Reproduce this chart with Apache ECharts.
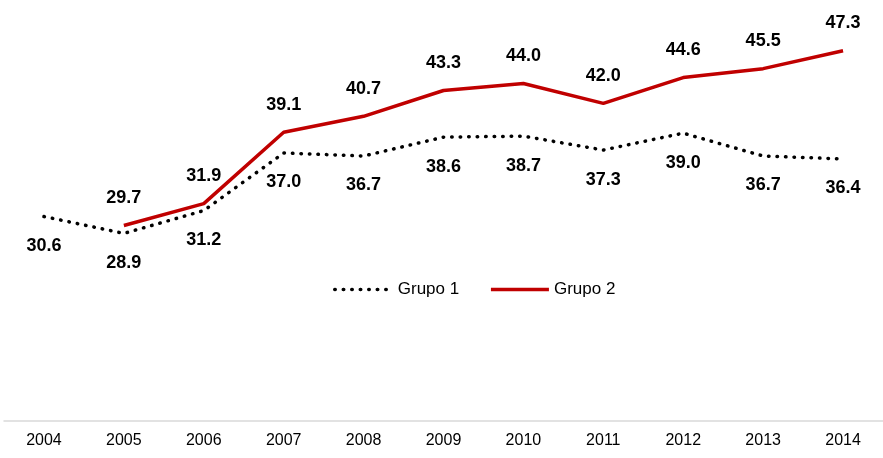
<!DOCTYPE html>
<html>
<head>
<meta charset="utf-8">
<script src="https://cdn.jsdelivr.net/npm/echarts@6/dist/echarts.min.js"></script>
<style>
  html, body { margin: 0; padding: 0; background: #fff; }
  #chart { width: 883px; height: 458px; }
</style>
</head>
<body>
<div id="chart"></div>
<script>
var years = ['2004', '2005', '2006', '2007', '2008', '2009', '2010', '2011', '2012', '2013', '2014']
var grupo1 = [30.6, 28.9, 31.2, 37.0, 36.7, 38.6, 38.7, 37.3, 39.0, 36.7, 36.4]
var grupo2 = [null, 29.7, 31.9, 39.1, 40.7, 43.3, 44.0, 42.0, 44.6, 45.5, 47.3]

var font = '"Liberation Sans Narrow", "Liberation Sans", Arial, sans-serif'
var chart = echarts.init(document.getElementById('chart'))

function labelOf(pos, dist) {
  return {
    show: true,
    position: pos,
    distance: dist,
    fontFamily: font,
    fontSize: 18,
    fontWeight: 'bold',
    color: '#000',
    formatter: function (p) { return p.value.toFixed(1) }
  }
}

var option = {
  animation: false,
  grid: { left: 4, right: -2, top: 24, bottom: 37 },
  legend: {
    left: 328,
    top: 276,
    itemWidth: 58,
    itemHeight: 14,
    itemGap: 30,
    lineStyle: { width: 3.5 },
    textStyle: { fontFamily: font, fontSize: 17, color: '#000' },
    data: ['Grupo 1', 'Grupo 2']
  },
  xAxis: {
    type: 'category',
    data: years,
    boundaryGap: true,
    axisLine: { lineStyle: { color: '#d9d9d9', width: 1.5 } },
    axisTick: { show: false },
    axisLabel: { fontFamily: font, fontSize: 16, color: '#000', margin: 12 }
  },
  yAxis: {
    type: 'value',
    min: 10,
    max: 50,
    show: false,
    splitLine: { show: false }
  },
  series: [
    {
      name: 'Grupo 1',
      type: 'line',
      data: grupo1,
      symbol: 'circle',
      symbolSize: 1,
      showSymbol: true,
      lineStyle: { color: '#000', width: 3.5, type: [0.5, 8], cap: 'round' },
      itemStyle: { color: 'rgba(0,0,0,0)' },
      label: labelOf('bottom', 20)
    },
    {
      name: 'Grupo 2',
      type: 'line',
      data: grupo2,
      symbol: 'circle',
      symbolSize: 1,
      showSymbol: true,
      lineStyle: { color: '#c00000', width: 3.5 },
      itemStyle: { color: 'rgba(0,0,0,0)' },
      label: labelOf('top', 18)
    }
  ]
}
option && chart.setOption(option)
</script>
</body>
</html>
